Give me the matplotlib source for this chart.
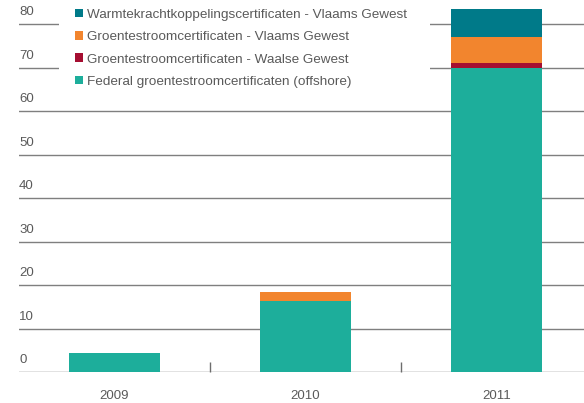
import matplotlib
matplotlib.use("Agg")
import matplotlib.pyplot as plt
from matplotlib.patches import Patch, Rectangle
import numpy as np

plt.rcParams['font.family'] = ['Liberation Sans', 'DejaVu Sans']

years = ["2009", "2010", "2011"]
federal = [4.4, 16.3, 70.0]
waals = [0.0, 0.0, 1.0]
vlaams_groen = [0.0, 2.0, 5.9]
vlaams_wkk = [0.0, 0.0, 6.5]
yticks = [0, 10, 20, 30, 40, 50, 60, 70, 80]

labels = ["Warmtekrachtkoppelingscertificaten - Vlaams Gewest",
          "Groentestroomcertificaten - Vlaams Gewest",
          "Groentestroomcertificaten - Waalse Gewest",
          "Federal groentestroomcertificaten (offshore)"]
colors = ["#007A89", "#F2852E", "#A50E31", "#1DAE9B"]

W, H = 584, 403
fig = plt.figure(figsize=(W / 100, H / 100), dpi=100)
left_px, bottom_px = 19, 372
ax = fig.add_axes([left_px / W, (H - bottom_px) / H, 1 - left_px / W, bottom_px / H])

x = np.arange(len(years))
bw = 0.48
series = [federal, waals, vlaams_groen, vlaams_wkk]
scol = [colors[3], colors[2], colors[1], colors[0]]
bottom = np.zeros(len(years))
for vals, c in zip(series, scol):
    ax.bar(x, vals, bw, bottom=bottom, color=c, zorder=2, linewidth=0)
    bottom += np.array(vals)

ax.set_xlim(-0.5, (W - left_px) / 191 - 0.5)
ax.set_ylim(0, bottom_px / 4.35)

for s in ax.spines.values():
    s.set_visible(False)

for v in yticks:
    ax.axhline(v, color="#7f7f7f" if v else "#6d6d6d", lw=1.0, zorder=0.8)
    ax.annotate(str(v), xy=(0, v), xycoords=('axes fraction', 'data'),
                xytext=(0, 4), textcoords='offset points', ha='left', va='bottom',
                fontsize=9.5, color="#5a5a5a")
ax.set_yticks([])

ax.set_xticks(x)
ax.set_xticklabels(years, fontsize=9.5, color="#5a5a5a")
ax.tick_params(axis='x', which='major', length=0, pad=13)
ax.set_xticks([0.5, 1.5], minor=True)
ax.tick_params(axis='x', which='minor', direction='in', length=7, width=1.0, color="#6d6d6d")

# white box behind legend
ax.add_patch(Rectangle((59 / W, 1 - 95 / H), (430 - 59) / W, 95 / H,
                       transform=fig.transFigure, facecolor='white', edgecolor='none',
                       zorder=1, clip_on=False))

handles = [Patch(facecolor=c, edgecolor='none') for c in colors]
leg = fig.legend(handles, labels, loc='upper left', bbox_to_anchor=(72 / W, 1 - 6 / H),
                 frameon=False, fontsize=9.7, handlelength=0.6, handleheight=0.6,
                 handletextpad=0.33, labelspacing=0.77, borderpad=0.2, borderaxespad=0)
for t in leg.get_texts():
    t.set_color("#5a5a5a")

fig.savefig("out.png", dpi=100)
